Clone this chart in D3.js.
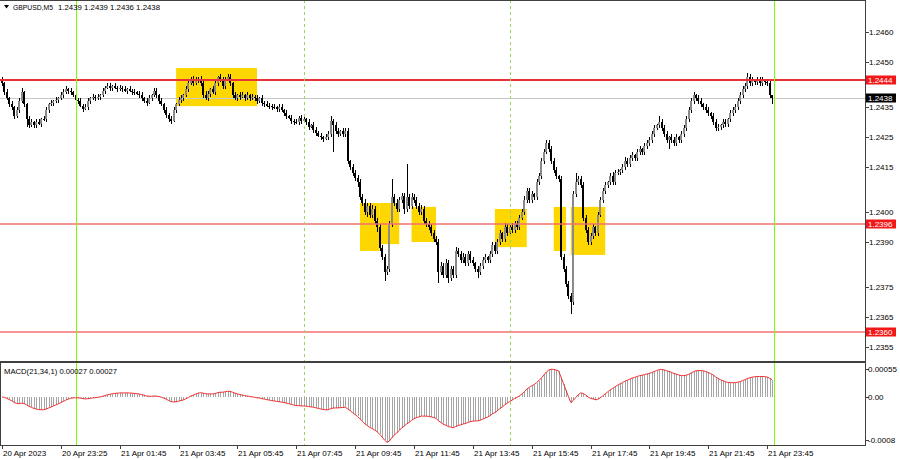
<!DOCTYPE html>
<html><head><meta charset="utf-8">
<script src="https://cdn.jsdelivr.net/npm/d3@7"></script>
<style>
body{margin:0;background:#fff}
svg{display:block}
text{font-family:"Liberation Sans",Arial,sans-serif;font-size:8px;fill:#000}
</style>
</head><body><svg id="c" width="900" height="460"></svg>
<script>
// ---------- DATA ----------
const symbol = "GBPUSD,M5";
const lastQuote = ["1.2439", "1.2439", "1.2436", "1.2438"];
const macdTitle = "MACD(21,34,1) 0.00027 0.00027";
const BASE = 1.2400;            // pips are measured from this price
const firstOpenPips = 44;
const closePips = [
43,40,38,36,35,32,34,37,40,36,
31,29,30,29,30,29.5,31,31,34,36,
36.5,37,37.5,38,39,40,41,40.5,40,39,
37.5,37,35.5,34.5,35,37,38,38.5,38,38.5,
39,40.5,41.5,42,41.5,42,41.5,41,41.5,41,
40.5,41,40.5,40,40,39.5,39,38,37,36.5,
38,39,40.5,39,37,36,34,32.5,31,30.5,
34,36,37.5,38,39,41,43,44.5,43,44,
44.5,43,39,38,39.5,41,40,43,45,44,
42,44.5,45,43,39,38,39,38.5,39,38,
39,38,38.5,38,37,38,36.5,36,35.5,35.5,
35,35,34.5,35,34,33,32,31.5,30.5,30,
30,31.5,30.5,31,30,28.5,29,27.5,26.5,25.5,
25,24.5,25,26,30.5,29,27,26,27,26,
27,17,15,13,11.5,10,5,3,0,2,
-1,1,-3,-5,-12,-15,-20,-19,-4,5,
3,1,4,5.5,1,5,2,5,4,2,
0,1,-3,-4,-5,-7,-9,-10,-20,-18,
-21,-17,-22,-19,-21,-13,-14,-16,-15,-17,
-14,-16,-17,-19,-20,-18,-16,-15,-16,-14,
-11,-13,-10,-7,-9,-5,-7,-5,-6,-4,
-5,-2,0,4,7,4,6,5,10,12,
17,20,23,21,17,14,12,11,-15,-19,
-24,-28,-30,6,10,11,9,-2,-6,-10,
-8,-5,-7,-1,4,7,9,10,12,10,
13,13.5,14,15,17,16,18,19,18,20,
21,20,22,23,24,26,28,29,30,28,
26,24,25,24,23,25,24,26,28,31,
34,37,39,38,37,36,35,34,33,32,
30,28,28.5,29,30,29.5,31,33,34,35,
37,39,41,42,45,43,44,43.5,44,43,
44,43.5,43,39,38
];
const upWick = [
1,0.5,1,0.5,1,0.5,1,1,1.5,0.5,
0.5,1,1,0.5,1,1,0.5,1,1,0.5,
1,0.5,1,0.5,1,1,1,0.5,1,0.5,
1,0.5,1,0.5,1,1,0.5,1,0.5,1,
0.5,1,0.5,1,1,0.5,1,0.5,1,0.5,
1,0.5,1,0.5,1,0.5,1,1,0.5,1,
1,0.5,1,1,0.5,1,0.5,1,0.5,1,
1,0.5,1,1,0.5,1,1,0.5,1,1,
0.5,1,1,1.5,1,0.5,1,1,0.5,1,
1,0.5,1,1,0.5,1,0.5,1,1,0.5,
1,0.5,1,0.5,1,0.5,1,0.5,1,1,
0.5,1,0.5,1,1,0.5,1,0.5,1,0.5,
1,0.5,1,1,0.5,1,0.5,1,1,0.5,
1,0.5,1,1,1.5,0.5,1,1,0.5,1,
1,1,0.5,1,1,1,1,1,1.5,1,
1,1.5,1,1,1,1,1,1,1,6,
1,1.5,1,1,1,11,1,1.5,1,1,
1,1.5,1,1,1,1,1,1,1,1.5,
1,1.5,1,1,1,1.5,1,1,1.5,1,
1,1,1,0.5,1,1,1,1,0.5,1,
1,1,1,1,0.5,1.5,1,1,1.5,1,
1,1,1,1.5,1,1,1,0.5,1,1,
1,1,1,1,1,1,1,0.5,1,1,
1,1,1,1,3,1,1,1,1,1,
1,1,0.5,1,1,1,1,0.5,1,1.5,
1,1,0.5,1,1.5,1,1,1,0.5,1,
1,0.5,1,1,1,1,1,0.5,2,1,
1,1,0.5,1,1,1,0.5,1,1,1,
1,1,1,0.5,1,1,0.5,1,1,0.5,
1,1,1,0.5,1,1,0.5,1,1,1,
1,1,1,1,1.5,1,1,0.5,1,1,
1,0.5,1,1,0
];
const dnWick = [
1,1,0.5,1,1,1,0.5,1,0.5,1,
2.5,1,0.5,1,1,0.5,1,0.5,1,1,
0.5,1,0.5,1,0.5,1,0.5,1,1,0.5,
1,1,0.5,1,0.5,1,1,0.5,1,0.5,
1,0.5,1,0.5,1,1,0.5,1,0.5,1,
0.5,1,0.5,1,1,0.5,1,1,0.5,1,
0.5,1,0.5,1,1,0.5,1,1,1,1,
0.5,1,0.5,1,1,0.5,1,0.5,1,0.5,
1,1,1,0.5,1,1,0.5,1,1,0.5,
1,1,0.5,1,1,0.5,1,1,0.5,1,
0.5,1,0.5,1,1,0.5,1,1,0.5,1,
1,0.5,1,1,0.5,1,1,0.5,1,1,
0.5,1,1,0.5,1,1,0.5,1,1,0.5,
1,1,0.5,1,1,9,1,1,0.5,1,
1,1,1,1,1,1.5,1,1,1,1.5,
1,1,1,1.5,1,1,3,1,1,1,
1,1,1,1,1.5,1,1,1,1,1,
1,1,1,1,1,1,1,1,3.5,1,
1,1,1.5,1,1,1,1,1,1,1,
1,1,1,1,2,1,1,1,1,1,
1,1,1,1,1,1,1,0.5,1,1,
1,1,0.5,1,1,1,1,1,1,1,
1,1,0.5,1,1,1,1,1,1,1,
1,1,4,1,1,1,1,1,1,1,
1,1,1,1,0.5,1,1,1,1,1,
1,0.5,1,1,1,1,1,1,1,1,
1,1,1,1,1,1,1,0.5,1,1,
1,1,3,1,1,1,1,1,1,1,
1,1,1,1,1,1,1,1,1,1,
1,1,1,1,1,1,1,1,1,1,
1,1,1,1,1,1,1,1,1,1,
1,1,1,1,2
];
const timeLabels = ["20 Apr 2023","20 Apr 23:25","21 Apr 01:45","21 Apr 03:45","21 Apr 05:45",
  "21 Apr 07:45","21 Apr 09:45","21 Apr 11:45","21 Apr 13:45","21 Apr 15:45",
  "21 Apr 17:45","21 Apr 19:45","21 Apr 21:45","21 Apr 23:45"];
const barsPerLabel = 24;
const priceTicks = [1.2460,1.2450,1.2435,1.2425,1.2415,1.2400,1.2390,1.2375,1.2365,1.2355];
const levels = [1.2444, 1.2396, 1.2360];
const bidPrice = 1.2438;
const macdMax = 0.00055, macdMin = -0.0008;
const macdTickLabels = ["0.00055", "0.00", "-0.0008"];
const macdFast = 21, macdSlow = 34;
const dayLines = [30, 315];          // bar index of 21 Apr 00:00 / 22 Apr 00:00
const sessionLines = [123, 207];     // 08:00 and 15:00
// zones: [fromBar, toBar, top price, bottom price]
const zones = [
  [71,104,1.2448,1.24353],[146,154,1.2403,1.2387],[154,162,1.2403,1.23893],
  [167,177,1.24017,1.2390],[201,214,1.2401,1.23883],[225,230,1.24017,1.2387],
  [232,246,1.24017,1.23857]
];

// ---------- CHART ----------
const svg = d3.select("#c");
const R = 865, mainBot = 361, macdTop = 363, macdBot = 446;
const n = closePips.length;
const x = d3.scaleLinear().domain([0, n - 1]).range([2, 772]);
const y = d3.scaleLinear().domain([1.2355, 1.2460]).range([347, 32]);
const ym = d3.scaleLinear().domain([macdMin, macdMax]).range([macdBot, macdTop]);
const p = v => BASE + v / 10000;

const bars = closePips.map((c, i) => {
  const o = i === 0 ? firstOpenPips : closePips[i - 1];
  return {i, o: p(o), c: p(c), h: p(Math.max(o, c) + upWick[i]), l: p(Math.min(o, c) - dnWick[i])};
});
function ema(arr, k) { const a = 2 / (k + 1); let e = arr[0]; return arr.map((v, i) => i === 0 ? e : (e = e + a * (v - e))); }
const closes = bars.map(b => b.c);
const ef = ema(closes, macdFast), es = ema(closes, macdSlow);
const macd = closes.map((_, i) => ef[i] - es[i]);

svg.append("rect").attr("width", 900).attr("height", 460).attr("fill", "#fff");
const defs = svg.append("defs");
defs.append("clipPath").attr("id", "cm").append("rect").attr("x", 0).attr("y", 0).attr("width", R).attr("height", mainBot);
defs.append("clipPath").attr("id", "cd").append("rect").attr("x", 0).attr("y", macdTop).attr("width", R).attr("height", macdBot - macdTop);

const gm = svg.append("g").attr("clip-path", "url(#cm)");
gm.selectAll(".zone").data(zones).join("rect")
  .attr("x", d => x(d[0])).attr("width", d => x(d[1]) - x(d[0]))
  .attr("y", d => y(d[2])).attr("height", d => y(d[3]) - y(d[2]))
  .attr("fill", "#ffd700");
gm.append("line").attr("x1", 0).attr("x2", R).attr("y1", Math.round(y(bidPrice)) + 0.5).attr("y2", Math.round(y(bidPrice)) + 0.5)
  .attr("stroke", "#c8c8c8").attr("stroke-width", 1);

// vertical separators across both panels
const gv = svg.append("g");
gv.selectAll(".sl").data(sessionLines).join("line")
  .attr("x1", d => Math.round(x(d)) + 0.5).attr("x2", d => Math.round(x(d)) + 0.5)
  .attr("y1", 0).attr("y2", macdBot).attr("stroke", "#9ad45a").attr("stroke-dasharray", "3,3");
gv.selectAll(".dl").data(dayLines).join("line")
  .attr("x1", d => Math.round(x(d)) + 0.5).attr("x2", d => Math.round(x(d)) + 0.5)
  .attr("y1", 0).attr("y2", macdBot).attr("stroke", "#7cfc00").attr("stroke-width", 1);

// candles
const gc = gm.append("g").attr("shape-rendering", "crispEdges");
bars.forEach(b => {
  const cx = Math.round(x(b.i));
  gc.append("rect").attr("x", cx).attr("width", 1).attr("y", y(b.h)).attr("height", Math.max(1, y(b.l) - y(b.h))).attr("fill", "#000");
  const top = y(Math.max(b.o, b.c)), bot = y(Math.min(b.o, b.c));
  const up = b.c >= b.o;
  gc.append("rect").attr("x", cx - 1).attr("width", 2).attr("y", top).attr("height", Math.max(1, bot - top))
    .attr("fill", Math.abs(bot - top) < 0.5 ? "#000" : (up ? "#8a8a8a" : "#000"));
});

// horizontal levels
gm.selectAll(".lv").data(levels).join("line")
  .attr("x1", 0).attr("x2", R).attr("y1", d => y(d)).attr("y2", d => y(d))
  .attr("stroke", (d, i) => i === 0 ? "#e8323a" : "#f27070").attr("stroke-width", (d, i) => i === 0 ? 2 : 1.3);

// MACD panel
const gd = svg.append("g").attr("clip-path", "url(#cd)");
gd.append("g").attr("shape-rendering", "crispEdges").selectAll("line").data(macd).join("line")
  .attr("x1", (d, i) => Math.round(x(i)) + 0.5).attr("x2", (d, i) => Math.round(x(i)) + 0.5)
  .attr("y1", ym(0)).attr("y2", d => ym(d)).attr("stroke", "#a4a4a4");
gd.append("path").datum(macd).attr("fill", "none").attr("stroke", "#f03030").attr("stroke-width", 1)
  .attr("d", d3.line().x((d, i) => x(i)).y(d => ym(d)));

// frames
const gf = svg.append("g").attr("shape-rendering", "crispEdges").attr("stroke", "#404040");
gf.append("line").attr("x1", 0).attr("x2", R + 1).attr("y1", 0.5).attr("y2", 0.5);
gf.append("line").attr("x1", 0).attr("x2", R + 1).attr("y1", mainBot + 0.5).attr("y2", mainBot + 0.5);
gf.append("line").attr("x1", 0).attr("x2", R + 1).attr("y1", macdTop - 0.5).attr("y2", macdTop - 0.5);
gf.append("line").attr("x1", 0).attr("x2", R + 1).attr("y1", macdBot - 0.5).attr("y2", macdBot - 0.5);
gf.append("line").attr("x1", 0.5).attr("x2", 0.5).attr("y1", macdTop).attr("y2", macdBot);
gf.append("line").attr("x1", R + 0.5).attr("x2", R + 0.5).attr("y1", 0).attr("y2", macdBot);

// right price axis
const ga = svg.append("g");
ga.selectAll(".pt").data(priceTicks).join("line").attr("x1", R + 1).attr("x2", R + 4)
  .attr("y1", d => Math.round(y(d)) + 0.5).attr("y2", d => Math.round(y(d)) + 0.5).attr("stroke", "#404040");
ga.selectAll(".ptl").data(priceTicks).join("text").attr("x", 869).attr("y", d => y(d) + 3)
  .text(d => d.toFixed(4));
// level / bid labels
const tags = levels.map(v => ({v, bg: "#f21818"})).concat([{v: bidPrice, bg: "#000"}]);
tags.forEach(t => {
  const cy = y(t.v);
  ga.append("rect").attr("x", R + 1).attr("y", cy - 4.5).attr("width", 30).attr("height", 9).attr("fill", t.bg);
  ga.append("text").attr("x", 868).attr("y", cy + 3).style("fill", "#fff").text(t.v.toFixed(4));
});
// MACD axis: MT4 puts max/min labels just inside the panel edges
const macdLabelY = [ym(macdMax) + 6, ym(0), ym(macdMin) - 6];
macdTickLabels.forEach((s, k) => {
  const ly = Math.round(macdLabelY[k]);
  ga.append("line").attr("x1", R + 1).attr("x2", R + 4).attr("y1", ly + 0.5).attr("y2", ly + 0.5).attr("stroke", "#404040");
  ga.append("text").attr("x", 868).attr("y", ly + 3).text(s);
});

// time axis
const gt = svg.append("g");
timeLabels.forEach((s, k) => {
  const tx = Math.round(x(k * barsPerLabel));
  gt.append("line").attr("x1", tx + 0.5).attr("x2", tx + 0.5).attr("y1", macdBot).attr("y2", macdBot + 3).attr("stroke", "#404040");
  gt.append("text").attr("x", tx + 1).attr("y", 456).text(s);
});

// header
svg.append("path").attr("d", "M4,5 L9,5 L6.5,8.5 Z").attr("fill", "#000");
svg.append("text").attr("x", 13).attr("y", 10).attr("textLength", 40).attr("lengthAdjust", "spacingAndGlyphs").text(symbol);
svg.append("text").attr("x", 58).attr("y", 10).attr("textLength", 102).attr("lengthAdjust", "spacingAndGlyphs").text(lastQuote.join(" "));
svg.append("text").attr("x", 4).attr("y", 374).attr("textLength", 113).attr("lengthAdjust", "spacingAndGlyphs").text(macdTitle);
</script>
</body></html>
